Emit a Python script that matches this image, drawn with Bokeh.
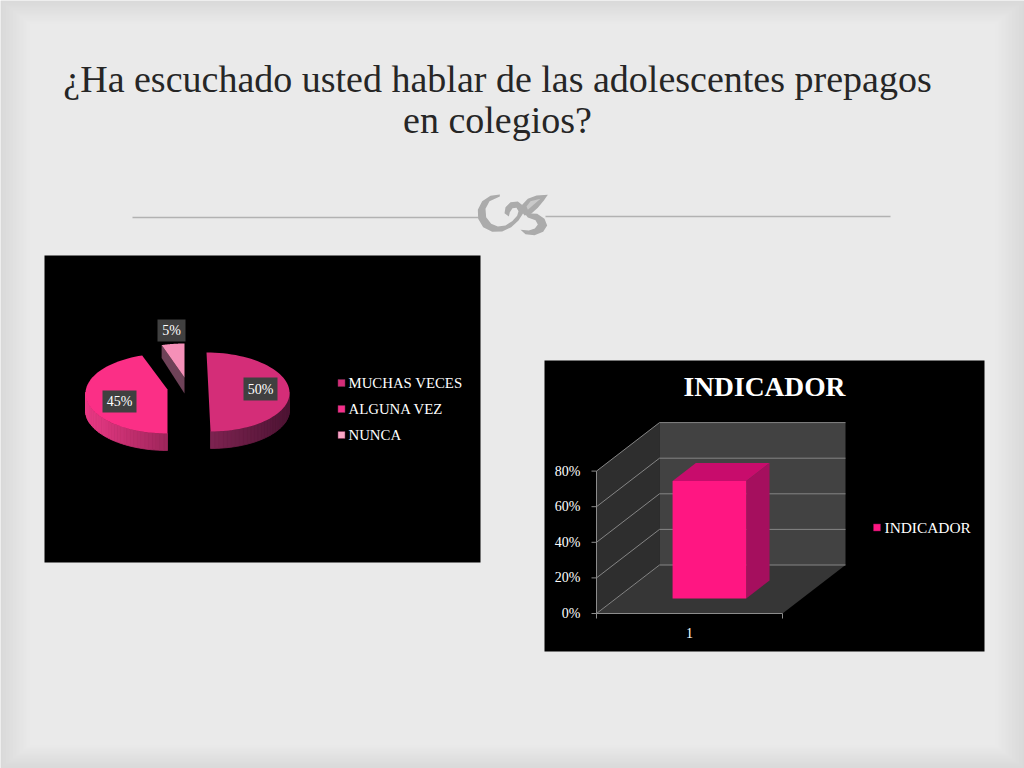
from math import sin, cos, pi
from bokeh.plotting import figure
from bokeh.embed import file_html
from bokeh.resources import INLINE
from bokeh.core.properties import value

# ---- data ----
title_lines = ["¿Ha escuchado usted hablar de las adolescentes prepagos", "en colegios?"]
pie_categories = ["MUCHAS VECES", "ALGUNA VEZ", "NUNCA"]
pie_values = [50, 45, 5]
pie_labels = ["50%", "45%", "5%"]
bar_title = "INDICADOR"
bar_series = "INDICADOR"
bar_categories = ["1"]
bar_values = [66]
bar_ticks = [0, 20, 40, 60, 80]
bar_tick_labels = ["0%", "20%", "40%", "60%", "80%"]

SERIF = value("Liberation Serif")


def mix(a, b, t):
    return "#%02x%02x%02x" % tuple(round(a[i] + (b[i] - a[i]) * t) for i in range(3))


p = figure(width=1024, height=768, x_range=(0, 1024), y_range=(768, 0),
           toolbar_location=None, output_backend="svg", min_border=0,
           background_fill_color="#ebebeb", border_fill_color="#ebebeb")
p.axis.visible = False
p.grid.visible = False
p.outline_line_color = None

# ---- slide background: soft frame ----
n = 30
for i in range(n):
    t = i / (n - 1)
    p.quad(left=i, right=1024 - i, top=i * 0.8, bottom=768 - i * 0.8,
           fill_color=mix((217, 217, 217), (234, 234, 234), t), line_color=None)

# ---- slide title and rule ----
p.text(x=[497], y=[78], text=[title_lines[0]], text_font=SERIF, text_font_size="38px",
       text_color="#262626", text_align="center", text_baseline="middle")
p.text(x=[497], y=[119], text=[title_lines[1]], text_font=SERIF, text_font_size="38px",
       text_color="#262626", text_align="center", text_baseline="middle")
p.segment(x0=[132, 545], y0=[217, 216], x1=[478, 890], y1=[217, 216], line_color="#b2b2b2", line_width=1.5)


def orn(pts):
    return [440 + a / 3 for a, b in pts], [170 + b / 3 for a, b in pts]


ornament = [
    # C with its tail curling into a swirl
    [(178, 72), (150, 76), (125, 92), (112, 118), (113, 145), (128, 170), (155, 184), (185, 183), (212, 170),
     (234, 150), (248, 128), (248, 106), (232, 93), (210, 95), (195, 110), (192, 128), (205, 138), (208, 125),
     (216, 113), (228, 112), (234, 122), (230, 136), (215, 152), (195, 165), (172, 168), (152, 160), (137, 140),
     (135, 115), (147, 92), (178, 78)],
    # leaf
    [(322, 73), (288, 75), (262, 85), (245, 103), (243, 122), (252, 135), (272, 130), (292, 112), (310, 90)],
    # bowl below the leaf
    [(252, 128), (290, 130), (312, 145), (320, 165), (308, 184), (282, 194), (255, 191), (240, 178), (265, 180),
     (283, 174), (292, 162), (285, 149), (262, 141)],
]
for shape in ornament:
    xs, ys = orn(shape)
    p.patch(xs, ys, fill_color="#ababab", line_color=None)
xs, ys = orn([(300, 85), (270, 92), (258, 108), (262, 118), (280, 102)])
p.patch(xs, ys, fill_color="#c9c9c9", line_color=None)

# ---- left chart: exploded 3D pie ----
p.quad(left=44, right=480, top=255, bottom=562, fill_color="#000000", line_color=None)

pie_geom = [
    dict(ax=208, ay=391, cx=208, cy=391.5, rx=81, ryb=39.5, ryf=39.5, sk=-2, th=17,
         top="#d42d78", s0=(128, 36, 82), s1=(78, 20, 52)),
    dict(ax=167, ay=389, cx=167, cy=393, rx=82, ryb=40, ryf=40, sk=0, th=17,
         top="#fb2f86", s0=(236, 58, 134), s1=(160, 38, 92)),
    dict(ax=184, ay=377, cx=184, cy=376, rx=74, ryb=33, ryf=33, sk=0, th=16,
         top="#f590b8", s0=(110, 66, 88), s1=(110, 66, 88)),
]


def arc_point(g, th):
    c = cos(th)
    ry = g["ryb"] if c > 0 else g["ryf"]
    return g["cx"] + g["rx"] * sin(th) + g["sk"] * c, g["cy"] - ry * c


total = sum(pie_values)
start = 0.0
spans = []
for v in pie_values:
    spans.append((start, start + v / total * 2 * pi))
    start = spans[-1][1]

for g, (a0, a1) in zip(pie_geom, spans):
    steps = 60
    angs = [a0 + (a1 - a0) * k / steps for k in range(steps + 1)]
    pts = [arc_point(g, a) for a in angs]
    for k in range(steps):
        am = (angs[k] + angs[k + 1]) / 2
        if cos(am) < 0.02:
            t = abs(pts[k][0] - g["ax"]) / g["rx"]
            (x0, y0), (x1, y1) = pts[k], pts[k + 1]
            c = mix(g["s0"], g["s1"], min(t, 1) if g is pie_geom[0] else 1 - min(t, 1))
            p.patch([x0, x1, x1, x0], [y0, y1, y1 + g["th"], y0 + g["th"]],
                    fill_color=c, line_color=c, line_width=0.8)
    if g is pie_geom[2]:
        (x0, y0) = pts[0]
        p.patch([x0, g["ax"], g["ax"], x0], [y0, g["ay"], g["ay"] + g["th"], y0 + 13],
                fill_color=mix(g["s0"], g["s1"], 0), line_color=None)
    xs = [g["ax"]] + [q[0] for q in pts]
    ys = [g["ay"]] + [q[1] for q in pts]
    p.patch(xs, ys, fill_color=g["top"], line_color=None)

label_boxes = [(243, 277, 377, 400), (102, 136, 390, 412), (157, 185, 319, 341)]
for txt, (l, r, t, b) in zip(pie_labels, label_boxes):
    p.quad(left=l, right=r, top=t, bottom=b, fill_color="#404040", line_color=None)
    p.text(x=[(l + r) / 2], y=[(t + b) / 2], text=[txt], text_font=SERIF, text_font_size="14px",
           text_color="#ffffff", text_align="center", text_baseline="middle")

legend_colors = ["#d42d78", "#f52f8a", "#f8a6c6"]
for i, (name, col) in enumerate(zip(pie_categories, legend_colors)):
    y = 382.5 + i * 26
    p.rect(x=[341], y=[y], width=7, height=7, fill_color=col, line_color="#7a2a50", line_width=0.5)
    p.text(x=[348], y=[y], text=[name], text_font=SERIF, text_font_size="14.8px", text_color="#ffffff",
           text_align="left", text_baseline="middle")

# ---- right chart: 3D column ----
p.quad(left=544, right=984, top=360, bottom=651, fill_color="#000000", line_color=None)
p.text(x=[764], y=[386], text=[bar_title], text_font=SERIF, text_font_size="27.5px", text_font_style="bold",
       text_color="#ffffff", text_align="center", text_baseline="middle")

ORIGIN_X, ORIGIN_Y = 596, 613
PLOT_W = 186
PX_PER_UNIT = 35.6 / 20
DEPTH_X, DEPTH_Y = 63, -48.5
top_tick = max(bar_ticks)


def proj(xn, v, d):
    return (ORIGIN_X + xn * PLOT_W + d * DEPTH_X,
            ORIGIN_Y - v * PX_PER_UNIT + d * DEPTH_Y)


def face(corners, color):
    q = [proj(*c) for c in corners]
    p.patch([a for a, _ in q], [b for _, b in q], fill_color=color, line_color=None)


face([(0, 0, 0), (0, 0, 1), (0, top_tick, 1), (0, top_tick, 0)], "#2e2e2e")
face([(0, 0, 1), (1, 0, 1), (1, top_tick, 1), (0, top_tick, 1)], "#424242")
face([(0, 0, 0), (1, 0, 0), (1, 0, 1), (0, 0, 1)], "#363636")

for v in bar_ticks:
    (x0, y0), (x1, y1), (x2, y2) = proj(0, v, 0), proj(0, v, 1), proj(1, v, 1)
    p.line([x0, x1, x2], [y0, y1, y2], line_color="#858585", line_width=1)

(ax0, ay0), (ax1, ay1) = proj(0, 0, 0), proj(0, top_tick, 0)
(bx1, by1) = proj(1, 0, 0)
p.line([ax1, ax0, bx1], [ay1, ay0, by1], line_color="#8c8c8c", line_width=1)
for v, lab in zip(bar_ticks, bar_tick_labels):
    x, y = proj(0, v, 0)
    p.line([x - 5, x], [y, y], line_color="#8c8c8c", line_width=1)
    p.text(x=[x - 16], y=[y], text=[lab], text_font=SERIF, text_font_size="14px", text_color="#ffffff",
           text_align="right", text_baseline="middle")
for xn in (0, 1):
    x, y = proj(xn, 0, 0)
    p.line([x, x], [y, y + 5], line_color="#8c8c8c", line_width=1)
for i, c in enumerate(bar_categories):
    x, y = proj((i + 0.5) / len(bar_categories), 0, 0)
    p.text(x=[x], y=[y + 19], text=[c], text_font=SERIF, text_font_size="14px", text_color="#ffffff",
           text_align="center", text_baseline="middle")

BX0, BX1, BD0, BD1 = 0.304, 0.70, 0.31, 0.68
for v in bar_values:
    face([(BX1, 0, BD0), (BX1, 0, BD1), (BX1, v, BD1), (BX1, v, BD0)], "#a50f5e")
    face([(BX0, v, BD0), (BX1, v, BD0), (BX1, v, BD1), (BX0, v, BD1)], "#c80c6c")
    face([(BX0, 0, BD0), (BX1, 0, BD0), (BX1, v, BD0), (BX0, v, BD0)], "#ff1682")

p.rect(x=[876.5], y=[527], width=7, height=7, fill_color="#ff1682", line_color="#8a1050", line_width=0.5)
p.text(x=[884], y=[527], text=[bar_series], text_font=SERIF, text_font_size="15.4px", text_color="#ffffff",
       text_align="left", text_baseline="middle")

open("out.html", "w").write(file_html(p, INLINE))
